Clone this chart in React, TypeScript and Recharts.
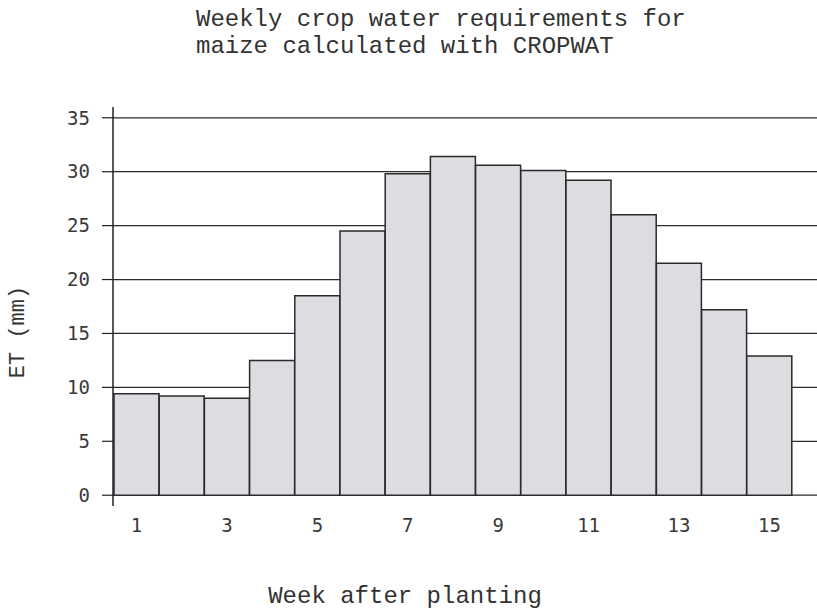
import React from 'react';
import { BarChart, Bar, XAxis, YAxis, CartesianGrid } from 'recharts';

const weeks = [1, 2, 3, 4, 5, 6, 7, 8, 9, 10, 11, 12, 13, 14, 15];
const etValues = [9.4, 9.2, 9.0, 12.5, 18.5, 24.5, 29.8, 31.4, 30.6, 30.1, 29.2, 26.0, 21.5, 17.2, 12.9];
const yTicks = [0, 5, 10, 15, 20, 25, 30, 35];

const titleLines = ['Weekly crop water requirements for', 'maize calculated with CROPWAT'];
const xLabel = 'Week after planting';
const yLabel = 'ET (mm)';

const data = weeks.map((w, i) => ({ week: w, et: etValues[i] }));

const mono = '"Liberation Mono", "DejaVu Sans Mono", monospace';
const tickFont = '"DejaVu Sans Mono", monospace';

export default function App() {
  return (
    <div style={{ position: 'absolute', left: 0, top: 0, width: 817, height: 609, background: '#fff' }}>
      <BarChart
        width={817}
        height={609}
        data={data}
        margin={{ top: 107, right: 0, bottom: 0, left: 0 }}
        barCategoryGap={0}
      >
        <CartesianGrid vertical={false} syncWithTicks stroke="#2b2b2b" strokeWidth={1.2} />
        <XAxis
          dataKey="week"
          interval={1}
          axisLine={false}
          tickLine={false}
          height={103}
          tickSize={6}
          tickMargin={7}
          padding={{ left: 1, right: 25 }}
          tick={{ fontSize: 19, fill: '#3a3a3a', fontFamily: tickFont }}
        />
        <YAxis
          type="number"
          domain={[-1, 36]}
          ticks={yTicks}
          width={113}
          tickSize={11}
          tickMargin={12}
          axisLine={{ stroke: '#222', strokeWidth: 1.5 }}
          tickLine={{ stroke: '#222', strokeWidth: 1.2 }}
          tick={{ fontSize: 19, fill: '#3a3a3a', fontFamily: tickFont }}
        />
        <Bar dataKey="et" fill="#dcdde0" stroke="#2a2a2a" strokeWidth={1.5} isAnimationActive={false} />
      </BarChart>
      <div
        style={{
          position: 'absolute',
          left: 196,
          top: 6,
          fontFamily: mono,
          fontSize: 24,
          lineHeight: '27px',
          color: '#333',
          whiteSpace: 'pre',
        }}
      >
        {titleLines.join('\n')}
      </div>
      <div
        style={{
          position: 'absolute',
          left: 405,
          top: 596,
          transform: 'translate(-50%, -50%)',
          fontFamily: mono,
          fontSize: 24,
          color: '#333',
          whiteSpace: 'nowrap',
        }}
      >
        {xLabel}
      </div>
      <div
        style={{
          position: 'absolute',
          left: 18,
          top: 332,
          transform: 'translate(-50%, -50%) rotate(-90deg)',
          fontFamily: mono,
          fontSize: 22,
          color: '#333',
          whiteSpace: 'nowrap',
        }}
      >
        {yLabel}
      </div>
    </div>
  );
}
